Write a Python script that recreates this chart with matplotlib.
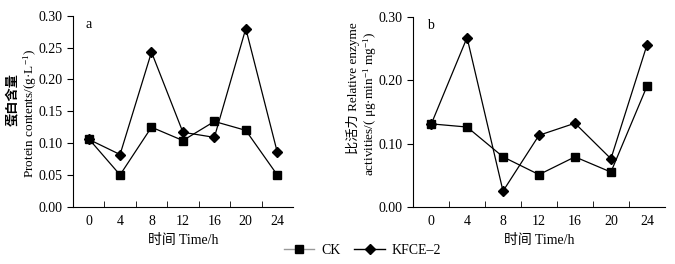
import matplotlib.pyplot as plt
from matplotlib.lines import Line2D

plt.rcParams['font.family'] = ['Liberation Serif', 'Noto Sans CJK SC']
plt.rcParams['font.size'] = 10
plt.rcParams['mathtext.fontset'] = 'custom'
plt.rcParams['mathtext.rm'] = 'Liberation Serif'
plt.rcParams['mathtext.it'] = 'Liberation Serif:italic'

hours = ['0', '4', '8', '12', '16', '20', '24']
protein_ck = [0.107, 0.050, 0.125, 0.104, 0.134, 0.120, 0.050]
protein_kfce = [0.106, 0.082, 0.243, 0.117, 0.109, 0.280, 0.086]
activity_ck = [0.131, 0.126, 0.079, 0.051, 0.079, 0.055, 0.190]
activity_kfce = [0.130, 0.267, 0.025, 0.113, 0.132, 0.076, 0.255]

fig = plt.figure(figsize=(6.75, 2.64), dpi=100)
ax1 = fig.add_axes([0.108, 0.217, 0.326, 0.723])
ax2 = fig.add_axes([0.612, 0.216, 0.373, 0.721])

def style(ax, ck, kfce, yticks, letter):
    x = list(range(len(hours)))
    ax.plot(x, ck, color='black', lw=0.9, marker='s', ms=6.3, label='CK')
    ax.plot(x, kfce, color='black', lw=0.9, marker='D', ms=5, label='KFCE-2')
    ax.set_xlim(-0.5, len(hours) - 0.5)
    ax.set_ylim(0, 0.30)
    ax.set_xticks(x)
    ax.set_xticklabels(hours)
    ax.set_xticks([i + 0.5 for i in range(len(hours) - 1)], minor=True)
    ax.tick_params(axis='x', which='major', length=0, pad=6)
    ax.tick_params(axis='x', which='minor', direction='in', length=4)
    ax.set_yticks(yticks)
    ax.set_yticklabels(['%.2f' % v for v in yticks])
    ax.tick_params(axis='y', direction='out', length=4)
    for s in ['top', 'right']:
        ax.spines[s].set_visible(False)
    ax.set_xlabel('时间 Time/h', labelpad=4)
    ax.text(0.055, 0.935, letter, transform=ax.transAxes, fontsize=10)

style(ax1, protein_ck, protein_kfce, [0, 0.05, 0.10, 0.15, 0.20, 0.25, 0.30], 'a')
style(ax2, activity_ck, activity_kfce, [0, 0.10, 0.20, 0.30], 'b')

# two-line y labels
lab = dict(rotation=90, ha='center', va='center', fontsize=9.5)
ax1.text(-0.273, 0.564, '蛋白含量', transform=ax1.transAxes, fontweight='bold', **lab)
ax1.text(-0.195, 0.49, r'Protein contents/(g·L$^{-1}$)', transform=ax1.transAxes, **lab)
ax2.text(-0.238, 0.625, '比活力 Relative enzyme', transform=ax2.transAxes, **lab)
ax2.text(-0.172, 0.545, r'activities/( μg·min$^{-1}$ mg$^{-1}$)', transform=ax2.transAxes, **lab)

handles = [Line2D([], [], color='#999999', lw=1, marker='s', ms=6.3, mfc='black', mec='black'),
           Line2D([], [], color='black', lw=1, marker='D', ms=5)]
fig.legend(handles, ['CK', 'KFCE–2'], loc='center', bbox_to_anchor=(0.537, 0.052),
           ncol=2, frameon=False, handlelength=2.2, handletextpad=0.5,
           columnspacing=1.0, fontsize=10)

fig.savefig('out.png', dpi=100)
